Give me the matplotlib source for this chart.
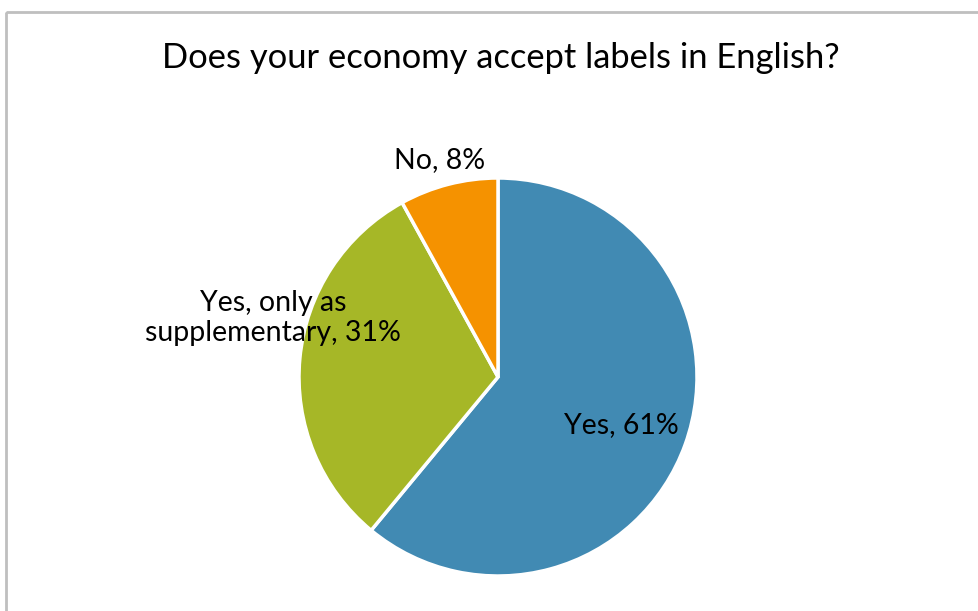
import matplotlib
matplotlib.use("Agg")
import matplotlib.pyplot as plt
from matplotlib.patches import Rectangle
from matplotlib.transforms import Affine2D

# survey answers, clockwise from 12 o'clock
categorias = ["Yes", "Yes, only as\nsupplementary", "No"]
valores = [61, 31, 8]
cores = ["#418AB3", "#A6B727", "#F59200"]

TITULO = "Does your economy accept labels in English?"

plt.rcParams['font.family'] = ['Lato', 'DejaVu Sans']

fig = plt.figure(figsize=(9.79, 6.11), dpi=100)
ax = fig.add_axes([0, 0, 1, 1])

# chart frame (cut off at right and bottom)
ax.add_patch(Rectangle((6, 11.5), 1000, 700, fill=False, edgecolor='#BFBFBF', linewidth=2))

cx, cy, r = 498, 377, 199
fatias, _ = ax.pie(valores, colors=cores, startangle=90, counterclock=False,
                   center=(cx, cy), radius=r,
                   wedgeprops=dict(edgecolor='white', linewidth=2.5))
# y axis runs downward, so mirror the wedges about the centre
for f in fatias:
    f.set_transform(Affine2D().scale(1, -1).translate(0, 2 * cy) + ax.transData)

ax.set_xlim(0, 979)
ax.set_ylim(611, 0)
ax.set_aspect('equal')
ax.axis('off')

rotulos = [f"{c}, {v}%" for c, v in zip(categorias, valores)]
posicoes = [(621, 425), (273, 318), (440, 160)]
for txt, (x, y) in zip(rotulos, posicoes):
    ax.text(x, y, txt, ha='center', va='center', fontsize=20.5, color='black',
            linespacing=1.18)

ax.text(501, 58, TITULO, ha='center', va='center', fontsize=24.8, color='black')

fig.savefig("out.png", dpi=100)
